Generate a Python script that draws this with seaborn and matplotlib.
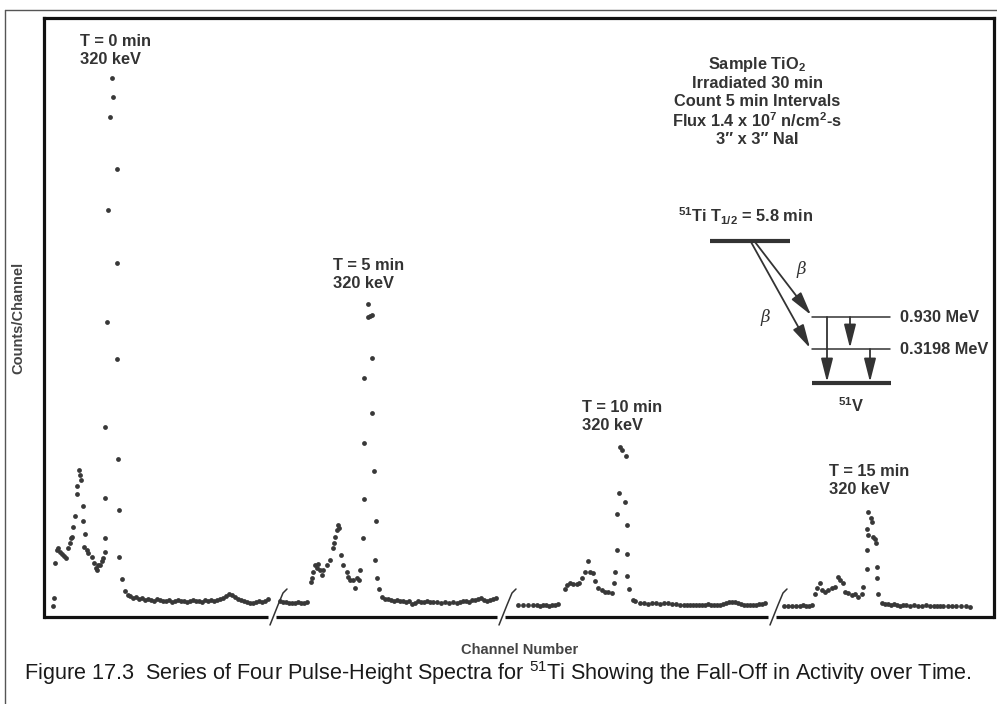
import matplotlib
matplotlib.use("Agg")
import matplotlib.pyplot as plt
import matplotlib.transforms as mtransforms
import pandas as pd
import seaborn as sns

# ---------------- data ----------------
# channel position along the broken x-axis, counts per channel (arbitrary units)
t0_channel = [9, 10, 11, 12.7, 14.3, 16, 18, 20, 22, 24.3, 25.5, 26.7, 27.7, 29.3, 31, 32.7, 33.3,
              35, 36, 37, 39.3, 39.3, 40.3, 41, 42.7, 44.3, 47.7, 50, 51.5, 53, 54.3, 56, 57.7, 59.3,
              61, 61, 61, 61.3, 62.7, 63.7, 66.3, 67.7, 68.7, 72.7, 72.7, 72.7, 73.7, 75, 75.3, 77.7,
              81, 84,
              86, 89, 92, 95, 98, 101, 104, 107, 110, 113, 116, 119, 122, 125, 128, 131, 134, 137,
              140, 143, 146, 149, 152, 155, 158, 161, 164, 167, 170, 173, 176, 179, 182, 185, 188,
              191, 194, 197, 200, 203, 206, 209, 212, 215, 218, 221, 224]
t0_counts = [11, 19, 54, 67, 69, 65, 63, 61, 59, 69, 74, 79, 80, 90, 101, 123, 131,
             147, 142, 137, 111, 96, 70, 83, 67, 64, 60, 54, 49, 47, 52, 52, 56, 59,
             65, 79, 119, 190, 295, 407, 500, 539, 520, 448, 354, 258, 158, 60, 107, 38,
             26, 22,
             21, 19, 20, 18, 19, 17, 18, 17, 16, 18, 17, 16, 16, 17, 15, 16, 17, 16,
             16, 15, 16, 17, 16, 16, 15, 17, 16, 17, 16, 17, 18, 19, 21, 23, 22,
             20, 18, 17, 16, 15, 14, 14, 15, 16, 15, 16, 18]

t5_channel = [236, 239, 242, 245, 248, 251, 254, 257, 260, 263,
              266.7, 267.7, 269.3, 271, 272.7, 274.3, 276, 277.7, 279.3, 282.7, 286, 289.3, 290.3,
              291, 292.7, 294.3, 295.3, 296.7, 299.3, 302.7, 304.3, 306, 309.3, 311, 312.7, 315.3,
              316, 318.7, 320, 320, 320.3, 324.3, 324.3, 326, 327.7, 328.3, 328.3, 330.3, 331.7,
              331.3, 333.3, 334.7,
              338, 341, 344, 347, 350, 353, 356, 359, 362, 365, 368, 371, 374, 377, 380, 383, 386,
              389, 393, 397, 401, 405, 409, 413, 416, 419, 422, 425, 428, 431, 434, 437, 440, 443,
              446, 449, 452]
t5_counts = [16, 15, 15, 14, 14, 14, 15, 14, 14, 15,
             35, 39, 45, 52, 49, 53, 47, 42, 47, 52, 57, 69, 74,
             80, 87, 92, 89, 62, 52, 45, 40, 37, 37, 29, 39, 37,
             47, 79, 118, 174, 239, 313, 300, 301, 302, 259, 204, 146, 96,
             57, 39, 28,
             20, 18, 18, 17, 16, 17, 16, 16, 15, 16, 13, 14, 16, 15, 15, 16, 15,
             15, 15, 14, 15, 14, 15, 14, 15, 16, 16, 15, 17, 17, 18, 19, 17, 16,
             17, 18, 19]

t10_channel = [474, 479, 484, 489, 493, 496, 499, 502, 505, 508, 511, 514,
               521, 522.7, 526, 529.3, 532.7, 535.3, 537.7, 541, 544.3, 546, 549.3, 551, 554.3,
               557.7, 561, 564.3, 567.7, 570.3, 571, 572.7, 573.3, 575, 576, 577.7, 582, 581,
               582.7, 582.7, 583.3, 585.3, 589.3, 591,
               596, 600, 604, 608, 612, 616, 620, 624, 628, 632, 636, 640, 643, 646, 649, 652,
               655, 658, 661, 664, 667, 670, 673, 676, 679, 682, 685, 688, 691, 694, 697, 700,
               703, 706, 709, 712, 715, 718, 721]
t10_counts = [12, 12, 12, 12, 12, 11, 12, 12, 11, 12, 12, 13,
              28, 32, 34, 33, 33, 34, 39, 45, 56, 45, 44, 36, 29,
              27, 25, 25, 24, 34, 45, 67, 103, 124, 170, 167, 161, 115,
              92, 63, 41, 28, 17, 16,
              14, 14, 13, 14, 14, 13, 14, 14, 13, 13, 12, 12, 12, 12, 12, 12,
              12, 12, 12, 13, 12, 12, 12, 12, 13, 14, 15, 15, 15, 14, 13, 12,
              12, 12, 12, 12, 13, 13, 14]

t15_channel = [740, 744, 748, 752, 756, 759, 762, 765, 768,
               771, 772.7, 776, 777.7, 781, 784.3, 787.7, 791, 794.3, 796, 798.7, 801, 804.3,
               807.7, 811, 814.3, 817.7, 819.3, 822.7, 823.3, 823.7, 823.3, 824.3, 826.7, 827.7,
               829.3, 830.5, 832, 832.7, 832.7, 834.3,
               838, 841, 844, 847, 850, 853, 856, 859, 862, 866, 870, 874, 878, 882, 886, 890,
               893, 896, 899, 904, 908, 912, 917, 922, 926]
t15_counts = [11, 11, 11, 11, 11, 12, 11, 11, 12,
              23, 29, 34, 27, 25, 27, 29, 30, 40, 37, 34, 25, 24,
              22, 23, 20, 23, 30, 48, 67, 82, 88, 105, 99, 95,
              80, 78, 74, 50, 39, 23,
              14, 13, 13, 12, 13, 12, 11, 12, 12, 11, 12, 11, 11, 12, 11, 11,
              11, 11, 11, 11, 11, 11, 11, 11, 10]

spectrum_names = ["T = 0 min", "T = 5 min", "T = 10 min", "T = 15 min"]
peak_energy = "320 keV"
break_channels = [229, 458, 729]

info_lines = [r"Sample TiO$_{\mathbf{2}}$", "Irradiated 30 min", "Count 5 min Intervals",
              r"Flux 1.4 x 10$^{\mathbf{7}}$ n/cm$^{\mathbf{2}}$-s", "3\u2033 x 3\u2033 NaI"]
level_labels = ["0.930 MeV", "0.3198 MeV"]

# ---------------- style ----------------
sns.set_style("white")
plt.rcParams["font.family"] = "sans-serif"
plt.rcParams["font.sans-serif"] = ["Liberation Sans", "DejaVu Sans"]
plt.rcParams["mathtext.fontset"] = "custom"
plt.rcParams["mathtext.rm"] = "Liberation Sans"
plt.rcParams["mathtext.bf"] = "Liberation Sans:bold"
plt.rcParams["mathtext.it"] = "Liberation Sans:italic"

W, H = 997, 704
fig = plt.figure(figsize=(W / 100, H / 100), dpi=100)
fig.patch.set_facecolor("white")

L, R, T, B = 44, 994, 18, 617
ax = fig.add_axes([L / W, 1 - B / H, (R - L) / W, (B - T) / H])

frames = []
for name, ch, ct in zip(spectrum_names,
                        [t0_channel, t5_channel, t10_channel, t15_channel],
                        [t0_counts, t5_counts, t10_counts, t15_counts]):
    frames.append(pd.DataFrame({"channel": ch, "counts": ct, "spectrum": name}))
df = pd.concat(frames, ignore_index=True)

sns.scatterplot(data=df, x="channel", y="counts", color="#383838", s=12,
                linewidth=0, ax=ax, legend=False, zorder=3)
ax.set_xlim(0, R - L)
ax.set_ylim(0, B - T)
ax.set_xticks([])
ax.set_yticks([])
ax.set_xlabel("")
ax.set_ylabel("")
for side in ["top", "left", "right"]:
    ax.spines[side].set_linewidth(2.3)
    ax.spines[side].set_color("#111111")
ax.spines["bottom"].set_visible(False)

# broken bottom axis
trans = mtransforms.blended_transform_factory(ax.transData, ax.transAxes)
starts = [0] + [b + 3 for b in break_channels]
ends = [b - 5 for b in break_channels] + [R - L]
for s0, e0 in zip(starts, ends):
    ax.plot([s0, e0], [0, 0], transform=trans, clip_on=False, color="#111111",
            lw=2.3, solid_capstyle="butt", zorder=4)
hgt = B - T
for b in break_channels:
    ax.plot([b - 3, b + 5, b + 10, b + 14], [-8 / hgt, 12 / hgt, 24 / hgt, 28 / hgt],
            transform=trans, clip_on=False, color="#333333", lw=1.1, zorder=5)

# ---------------- overlay for annotations (pixel coordinates) ----------------
ov = fig.add_axes([0, 0, 1, 1])
ov.set_xlim(0, W)
ov.set_ylim(H, 0)
ov.axis("off")
ov.patch.set_alpha(0)

# outer border of the figure
ov.plot([5, 5], [10, H], color="#555555", lw=1.0)
ov.plot([5, W], [10, 10], color="#555555", lw=1.0)

lab = dict(fontsize=11.8, fontweight="bold", color="#333333", va="center", ha="left")
label_pos = [(80, 42), (333, 265), (582, 407), (829, 471)]
for name, (x, y) in zip(spectrum_names, label_pos):
    ov.text(x, y, name, **lab)
    ov.text(x, y + 18, peak_energy, **lab)

info_y = [64, 83, 101, 121, 140]
for s, y in zip(info_lines, info_y):
    ov.text(757, y, s, fontsize=11.8, fontweight="bold", color="#333333",
            ha="center", va="center", family=["Liberation Sans", "DejaVu Sans"])

# decay scheme
ov.text(678, 216, r"$^{\mathbf{51}}$Ti T$_{\mathbf{1/2}}$ = 5.8 min", **lab)
ov.plot([710, 790], [241, 241], color="#333333", lw=3.0, solid_capstyle="butt")
ov.plot([812, 890], [317, 317], color="#333333", lw=1.1)
ov.plot([812, 890], [349, 349], color="#333333", lw=1.1)
ov.plot([812, 891], [383, 383], color="#333333", lw=3.0, solid_capstyle="butt")
ov.text(900, 317, level_labels[0], **lab)
ov.text(900, 350, level_labels[1], **lab)
ov.text(838, 406, r"$^{\mathbf{51}}$V", **lab)

arr = dict(arrowstyle="-|>,head_length=1.3,head_width=0.33", color="#333333", lw=1.3,
           shrinkA=0, shrinkB=0, mutation_scale=11)
ov.annotate("", xy=(811, 315), xytext=(755, 242), arrowprops=arr)
ov.annotate("", xy=(810, 348), xytext=(751, 242), arrowprops=arr)
ov.annotate("", xy=(827, 382), xytext=(827, 317), arrowprops=arr)
ov.annotate("", xy=(850, 348), xytext=(850, 317), arrowprops=arr)
ov.annotate("", xy=(870, 382), xytext=(870, 349), arrowprops=arr)
ov.text(801, 269, "\u03b2", fontsize=12, style="italic", family="DejaVu Serif",
        color="#333333", ha="center", va="center")
ov.text(765, 318, "\u03b2", fontsize=12, style="italic", family="DejaVu Serif",
        color="#333333", ha="center", va="center")

# axis titles and caption
ov.text(520, 650, "Channel Number", fontsize=10.5, fontweight="bold", color="#444444",
        ha="center", va="center")
ov.text(18, 318, "Counts/Channel", fontsize=10.5, fontweight="bold", color="#444444",
        ha="center", va="center", rotation=90)
ov.text(498, 673, r"Figure 17.3  Series of Four Pulse-Height Spectra for $^{51}$Ti Showing the "
        "Fall-Off in Activity over Time.", fontsize=15.6, color="#1a1a1a",
        ha="center", va="center")

fig.savefig("out.png", dpi=100)
